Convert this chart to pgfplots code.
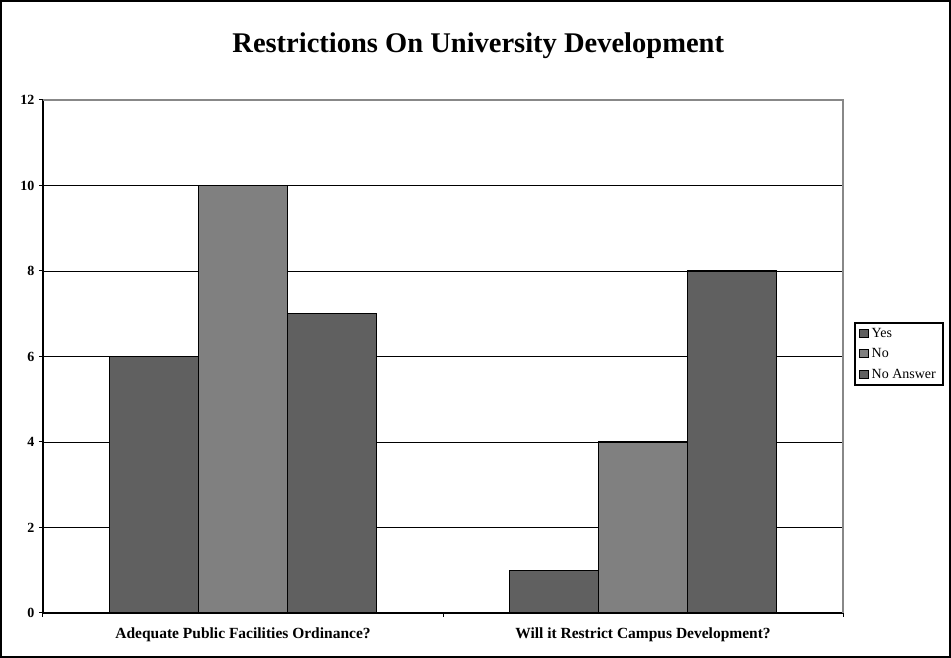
\documentclass[border=0pt]{standalone}
\usepackage{fontspec}
\setmainfont{Liberation Serif}
\usepackage{pgfplots}
\pgfplotsset{compat=1.18}
\definecolor{darkbar}{HTML}{606060}
\definecolor{midbar}{HTML}{808080}
\definecolor{frameg}{HTML}{888888}
\pgfplotsset{
  swatch/.style={legend image code/.code={%
    \draw[##1, line width=0.9pt] (1pt,-4pt) rectangle (10pt,4pt);}},
}
\begin{document}
\begin{tikzpicture}[x=1pt,y=1pt]
\useasboundingbox (0,0) rectangle (951,658);
\draw[line width=2pt] (1,1) rectangle (950,657);
\begin{axis}[
  at={(43pt,45pt)}, anchor=south west,
  scale only axis, width=800pt, height=513pt,
  xmin=0, xmax=2, ymin=0, ymax=12,
  ybar, bar width=89pt,
  axis x line=bottom, axis y line=left,
  axis line style={-, black, line width=1.3pt},
  ytick={0,2,...,12},
  ymajorgrids, grid style={black, line width=0.8pt},
  xtick={0,1,2}, xticklabels={,,},
  tick align=outside, major tick length=4pt,
  tick style={black, line width=1pt},
  extra x ticks={0.5,1.5},
  extra x tick labels={Adequate Public Facilities Ordinance?, Will it Restrict Campus Development?},
  extra x tick style={major tick length=0pt, grid=none,
    xticklabel style={font=\fontsize{15.5}{15.5}\selectfont\bfseries, yshift=-11pt}},
  yticklabel style={font=\fontsize{14}{14}\selectfont\bfseries, xshift=-1pt},
  /pgf/number format/assume math mode=true,
  title={Restrictions On University Development},
  title style={font=\fontsize{28.5}{30}\selectfont\bfseries,
    at={(axis description cs:0.544,1.111)}, anchor=center, yshift=-9pt},
  legend style={at={(axis description cs:1.01375,0.567)}, anchor=north west,
    draw=black, line width=1.6pt, font=\fontsize{14}{14}\selectfont,
    row sep=6pt, inner xsep=4pt, inner ysep=3pt, cells={anchor=west},
    nodes={inner xsep=3pt}},
  after end axis/.code={
    \draw[frameg, line width=1.5pt] (rel axis cs:0,1) -- (rel axis cs:1,1) -- (rel axis cs:1,0);
  },
]
\addplot[fill=darkbar, draw=black, line width=1.4pt, bar shift=-89pt, swatch]
  coordinates {(0.5,6) (1.5,1)};
\addplot[fill=midbar, draw=black, line width=1.4pt, bar shift=0pt, swatch]
  coordinates {(0.5,10) (1.5,4)};
\addplot[fill=darkbar, draw=black, line width=1.4pt, bar shift=89pt, swatch]
  coordinates {(0.5,7) (1.5,8)};
\legend{Yes, No, No Answer}
\end{axis}
\end{tikzpicture}
\end{document}
